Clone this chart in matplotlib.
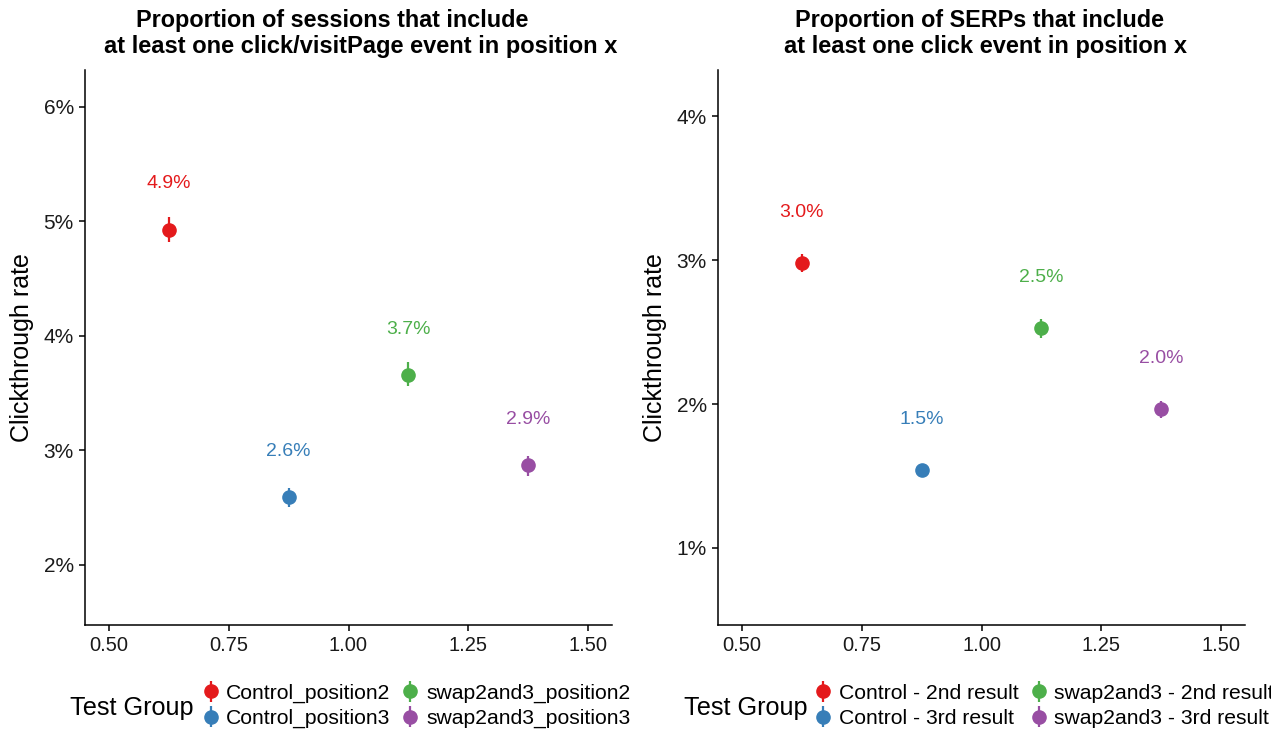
import matplotlib
matplotlib.use("Agg")
import matplotlib.pyplot as plt
from matplotlib.ticker import FuncFormatter

plt.rcParams['font.family'] = ['Liberation Sans', 'DejaVu Sans']

W, H = 1271, 734

# ---- data ----
x_pos = [0.625, 0.875, 1.125, 1.375]
colors = ['#E41A1C', '#377EB8', '#4DAF4A', '#984EA3']

left_groups = ['Control_position2', 'Control_position3', 'swap2and3_position2', 'swap2and3_position3']
left_ctr = [4.93, 2.59, 3.66, 2.87]
left_lo = [4.82, 2.51, 3.56, 2.78]
left_hi = [5.04, 2.67, 3.77, 2.95]

right_groups = ['Control - 2nd result', 'Control - 3rd result', 'swap2and3 - 2nd result', 'swap2and3 - 3rd result']
right_ctr = [2.98, 1.54, 2.53, 1.965]
right_lo = [2.92, 1.50, 2.46, 1.90]
right_hi = [3.04, 1.58, 2.59, 2.02]

left_title = ["Proportion of sessions that include", "at least one click/visitPage event in position x"]
right_title = ["Proportion of SERPs that include", "at least one click event in position x"]

x_ticks = [0.50, 0.75, 1.00, 1.25, 1.50]
left_yticks = [2, 3, 4, 5, 6]
right_yticks = [1, 2, 3, 4]

fig = plt.figure(figsize=(W / 100, H / 100), dpi=100)


def px_axes(l, t, r, b):
    return fig.add_axes([l / W, 1 - b / H, (r - l) / W, (b - t) / H])


def panel(ax, groups, ctr, lo, hi, yticks, ylim, nudge, title, tcenters):
    handles = []
    for xi, c, l, h, col, g in zip(x_pos, ctr, lo, hi, colors, groups):
        cont = ax.errorbar([xi], [c], yerr=[[c - l], [h - c]], fmt='o', color=col,
                           ms=9.5, elinewidth=1.6, capsize=0, label=g, zorder=3)
        handles.append(cont)
        ax.text(xi, c + nudge, f"{c:.1f}%", color=col, ha='center', va='center', fontsize=14)
    ax.set_xlim(0.45, 1.55)
    ax.set_ylim(*ylim)
    ax.set_xticks(x_ticks)
    ax.set_xticklabels([f"{v:.2f}" for v in x_ticks])
    ax.set_yticks(yticks)
    ax.yaxis.set_major_formatter(FuncFormatter(lambda v, p: f"{v:.0f}%"))
    for s in ['top', 'right']:
        ax.spines[s].set_visible(False)
    for s in ['left', 'bottom']:
        ax.spines[s].set_linewidth(1.1)
    ax.tick_params(length=4, width=1.1, labelsize=14.5, labelcolor='#1a1a1a', pad=4)
    ax.tick_params(axis='y', labelsize=15)
    ax.set_ylabel("Clickthrough rate", fontsize=18)
    ax.yaxis.label.set_va('center')
    ax.yaxis.set_label_coords(-63 / 527, 0.5)
    fig.text(tcenters[0] / W, 1 - 20 / H, title[0], ha='center', va='center',
             fontsize=16.8, fontweight='bold')
    fig.text(tcenters[1] / W, 1 - 47 / H, title[1], ha='center', va='center',
             fontsize=17, fontweight='bold')
    return handles


axL = px_axes(85, 70, 612, 625)
axR = px_axes(718, 70, 1245, 625)

hL = panel(axL, left_groups, left_ctr, left_lo, left_hi, left_yticks, (1.476, 6.323), 0.40,
           left_title, (332, 361))
hR = panel(axR, right_groups, right_ctr, right_lo, right_hi, right_yticks, (0.465, 4.32), 0.35,
           right_title, (980, 986))

# legends
for handles, groups, tx, lx in [(hL, left_groups, 70, 201), (hR, right_groups, 684, 814)]:
    fig.text(tx / W, 1 - 708 / H, "Test Group", ha='left', va='center', fontsize=18.2)
    leg = fig.legend(handles, groups, ncol=2, loc='center left',
                     bbox_to_anchor=(lx / W, 1 - 706 / H), frameon=False,
                     fontsize=15.2, handlelength=0.9, handletextpad=0.3,
                     columnspacing=0.47, labelspacing=0.3, borderaxespad=0, borderpad=0)

fig.savefig("out.png", dpi=100)
